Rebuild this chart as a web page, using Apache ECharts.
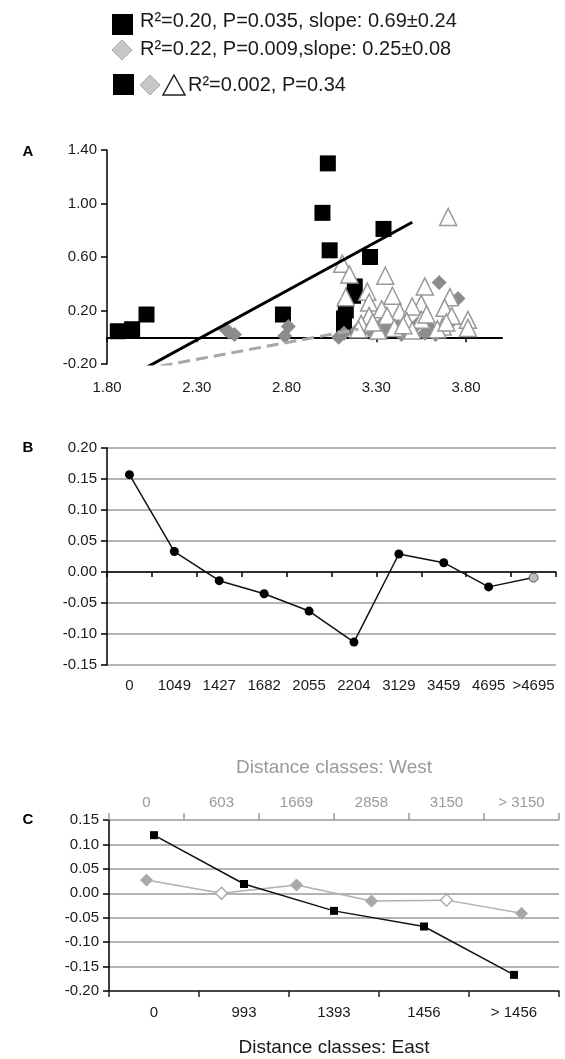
<!DOCTYPE html>
<html>
<head>
<meta charset="utf-8">
<script src="https://cdn.jsdelivr.net/npm/echarts@6/dist/echarts.min.js"></script>
<style>
html,body{margin:0;padding:0;background:#fff;}
#chart{width:565px;height:1059px;}
</style>
</head>
<body>
<div id="chart"></div>
<script>
// ---------- Panel A data ----------
const aSquares = [
  [1.86,0.045],[1.94,0.06],[2.02,0.17],[2.78,0.17],[3.03,1.30],[3.00,0.93],[3.04,0.65],
  [3.34,0.81],[3.265,0.60],[3.18,0.38],[3.17,0.31],[3.13,0.20],[3.12,0.14],[3.12,0.08]
];
const aDiamonds = [
  [2.46,0.06],[2.48,0.04],[2.51,0.02],[2.81,0.08],[2.79,0.01],[3.65,0.41],[3.755,0.29],
  [3.09,0.00],[3.12,0.03],[3.19,0.05],[3.24,0.08],[3.28,0.03],[3.33,0.10],[3.36,0.05],
  [3.41,0.09],[3.44,0.02],[3.48,0.06],[3.53,0.10],[3.57,0.03],[3.60,0.07],[3.63,0.02],[3.72,0.12]
];
const aTriangles = [
  [3.70,0.90],[3.11,0.55],[3.15,0.47],[3.35,0.46],[3.57,0.38],[3.25,0.34],[3.39,0.31],
  [3.13,0.30],[3.71,0.30],[3.55,0.25],[3.26,0.26],[3.33,0.21],[3.43,0.19],[3.50,0.23],
  [3.68,0.22],[3.72,0.16],[3.81,0.13],[3.26,0.16],[3.36,0.16],[3.47,0.12],[3.55,0.13],
  [3.215,0.10],[3.40,0.07],[3.67,0.08],[3.81,0.07],[3.20,0.06],[3.31,0.05],[3.50,0.05],
  [3.64,0.06],[3.69,0.11],[3.28,0.11],[3.45,0.09],[3.58,0.17]
];
const aFitBlack = [[2.0,-0.24],[3.5,0.86]];
const aFitGray = [[2.0,-0.24],[3.2,0.06]];
const aTicksX = [1.8,2.3,2.8,3.3,3.8];
const aTicksY = [-0.2,0.2,0.6,1.0,1.4];

// ---------- Panel B data ----------
const bCats = ['0','1049','1427','1682','2055','2204','3129','3459','4695','>4695'];
const bVals = [0.157,0.033,-0.014,-0.035,-0.063,-0.113,0.029,0.015,-0.024,-0.009];

// ---------- Panel C data ----------
const cEastCats = ['0','993','1393','1456','> 1456'];
const cEastVals = [0.119,0.019,-0.036,-0.068,-0.167];
const cWestCats = ['0','603','1669','2858','3150','> 3150'];
const cWestVals = [0.027,0.000,0.017,-0.016,-0.014,-0.041];
const cWestOpen = [false,true,false,false,true,false];

const FONT = '"Liberation Sans", Arial, sans-serif';
const TXT = '#1a1a1a';
const GRID = '#9a9a9a';
const fmt2 = v => (Math.abs(v) < 1e-9 ? 0 : v).toFixed(2);
const lbl = (extra) => Object.assign({fontSize:15, color:TXT, fontFamily:FONT}, extra || {});

const chart = echarts.init(document.getElementById('chart'), null, {renderer:'canvas'});

const option = {
  backgroundColor:'#fff',
  animation:false,
  grid:[
    {left:107, top:150, width:395, height:214},
    {left:107, top:448, width:449, height:217},
    {left:109, top:820, width:450, height:171}
  ],
  xAxis:[
    {gridIndex:0, type:'value', min:1.8, max:4.0, position:'bottom',
      axisLine:{show:false, onZero:false}, axisTick:{show:false}, splitLine:{show:false},
      axisLabel:lbl({customValues:aTicksX, formatter:fmt2, margin:16})},
    {gridIndex:0, type:'value', min:1.8, max:4.0, position:'top',
      axisLine:{show:true, onZero:true, lineStyle:{color:'#000', width:2}},
      axisTick:{show:true, inside:true, customValues:aTicksX, length:5, lineStyle:{color:'#000', width:1.5}},
      axisLabel:{show:false}, splitLine:{show:false}},
    {gridIndex:1, type:'category', data:bCats, position:'bottom',
      axisLine:{show:false, onZero:false}, axisTick:{show:false}, splitLine:{show:false},
      axisLabel:lbl({interval:0, margin:13})},
    {gridIndex:1, type:'category', data:bCats, position:'top',
      axisLine:{show:true, onZero:true, lineStyle:{color:'#000', width:1.5}},
      axisTick:{show:true, inside:true, interval:0, length:5, lineStyle:{color:'#000', width:1.5}},
      axisLabel:{show:false}, splitLine:{show:false}},
    {gridIndex:2, type:'category', data:cEastCats, position:'bottom',
      axisLine:{show:true, onZero:false, lineStyle:{color:'#222', width:1.5}},
      axisTick:{show:true, interval:0, length:6, lineStyle:{color:'#222', width:1.5}},
      axisLabel:lbl({interval:0, margin:14}), splitLine:{show:false},
      name:'Distance classes: East', nameLocation:'middle', nameGap:47,
      nameTextStyle:{fontSize:19, color:TXT, fontFamily:FONT}},
    {gridIndex:2, type:'category', data:cWestCats, position:'top',
      axisLine:{show:false, onZero:false},
      axisTick:{show:true, interval:0, length:7, lineStyle:{color:'#999', width:1.5}},
      axisLabel:lbl({interval:0, margin:10, color:'#9a9a9a'}), splitLine:{show:false},
      name:'Distance classes: West', nameLocation:'middle', nameGap:43,
      nameTextStyle:{fontSize:19, color:'#9a9a9a', fontFamily:FONT}}
  ],
  yAxis:[
    {gridIndex:0, type:'value', min:-0.2, max:1.4,
      axisLine:{show:true, onZero:false, lineStyle:{color:'#000', width:1.5}},
      axisTick:{show:true, customValues:aTicksY, length:6, lineStyle:{color:'#000', width:1.5}},
      axisLabel:lbl({customValues:aTicksY, formatter:fmt2, margin:10}),
      splitLine:{show:false}},
    {gridIndex:1, type:'value', min:-0.15, max:0.2, interval:0.05,
      axisLine:{show:true, onZero:false, lineStyle:{color:'#000', width:1.5}},
      axisTick:{show:true, length:6, lineStyle:{color:'#000', width:1.5}},
      axisLabel:lbl({formatter:fmt2, margin:10}),
      splitLine:{show:true, lineStyle:{color:GRID, width:1.5}}},
    {gridIndex:2, type:'value', min:-0.2, max:0.15, interval:0.05,
      axisLine:{show:true, onZero:false, lineStyle:{color:'#000', width:1.5}},
      axisTick:{show:true, length:6, lineStyle:{color:'#000', width:1.5}},
      axisLabel:lbl({formatter:fmt2, margin:10}),
      splitLine:{show:true, lineStyle:{color:GRID, width:1.5}}}
  ],
  series:[
    {type:'scatter', xAxisIndex:0, yAxisIndex:0, data:aSquares, symbol:'rect', symbolSize:16,
      itemStyle:{color:'#000', opacity:1}, z:2},
    {type:'scatter', xAxisIndex:0, yAxisIndex:0, data:aDiamonds, symbol:'diamond', symbolSize:15,
      itemStyle:{color:'#8c8c8c', opacity:1}, z:3},
    {type:'scatter', xAxisIndex:0, yAxisIndex:0, data:aTriangles, symbol:'triangle', symbolSize:17,
      itemStyle:{color:'#fff', borderColor:'#999', borderWidth:1.5, opacity:1}, z:4},
    {type:'line', xAxisIndex:0, yAxisIndex:0, data:aFitBlack, showSymbol:false, symbol:'none',
      lineStyle:{color:'#000', width:3}, z:5},
    {type:'line', xAxisIndex:0, yAxisIndex:0, data:aFitGray, showSymbol:false, symbol:'none',
      lineStyle:{color:'#a8a8a8', width:3, type:[12,6]}, z:5},
    {type:'line', xAxisIndex:2, yAxisIndex:1,
      data:bVals.map((v,i) => i === bVals.length-1
        ? {value:v, itemStyle:{color:'#bdbdbd', borderColor:'#555', borderWidth:1}}
        : v),
      symbol:'circle', symbolSize:9, itemStyle:{color:'#000'},
      lineStyle:{color:'#111', width:1.5}, z:5},
    {type:'line', xAxisIndex:5, yAxisIndex:2,
      data:cWestVals.map((v,i) => ({value:v, itemStyle: cWestOpen[i]
        ? {color:'#fff', borderColor:'#a0a0a0', borderWidth:1.2}
        : {color:'#a8a8a8', borderColor:'#a8a8a8', borderWidth:1}})),
      symbol:'diamond', symbolSize:12, lineStyle:{color:'#b0b0b0', width:1.5}, z:4},
    {type:'line', xAxisIndex:4, yAxisIndex:2, data:cEastVals,
      symbol:'rect', symbolSize:8, itemStyle:{color:'#000'},
      lineStyle:{color:'#111', width:1.5}, z:5}
  ],
  graphic:[
    {type:'rect', shape:{x:112, y:14, width:21, height:21}, style:{fill:'#000'}},
    {type:'text', x:140, y:21, style:{text:'R²=0.20, P=0.035, slope: 0.69±0.24', fontSize:20, fontFamily:FONT, fill:TXT, verticalAlign:'middle', textVerticalAlign:'middle'}},
    {type:'polygon', shape:{points:[[122,40],[132,50],[122,60],[112,50]]}, style:{fill:'#c8c8c8', stroke:'#a8a8a8', lineWidth:1}},
    {type:'text', x:140, y:49, style:{text:'R²=0.22, P=0.009,slope: 0.25±0.08', fontSize:20, fontFamily:FONT, fill:TXT, verticalAlign:'middle', textVerticalAlign:'middle'}},
    {type:'rect', shape:{x:113, y:74, width:21, height:21}, style:{fill:'#000'}},
    {type:'polygon', shape:{points:[[150,75],[160,85],[150,95],[140,85]]}, style:{fill:'#c8c8c8', stroke:'#a8a8a8', lineWidth:1}},
    {type:'polygon', shape:{points:[[174,75],[185,95],[163,95]]}, style:{fill:'#fff', stroke:'#222', lineWidth:1.5}},
    {type:'text', x:188, y:85, style:{text:'R²=0.002, P=0.34', fontSize:20, fontFamily:FONT, fill:TXT, verticalAlign:'middle', textVerticalAlign:'middle'}},
    {type:'text', x:28, y:152, style:{text:'A', fontSize:15, fontWeight:'bold', fontFamily:FONT, fill:'#000', align:'center', textAlign:'center', verticalAlign:'middle', textVerticalAlign:'middle'}},
    {type:'text', x:28, y:448, style:{text:'B', fontSize:15, fontWeight:'bold', fontFamily:FONT, fill:'#000', align:'center', textAlign:'center', verticalAlign:'middle', textVerticalAlign:'middle'}},
    {type:'text', x:28, y:820, style:{text:'C', fontSize:15, fontWeight:'bold', fontFamily:FONT, fill:'#000', align:'center', textAlign:'center', verticalAlign:'middle', textVerticalAlign:'middle'}}
  ]
};
chart.setOption(option);
</script>
</body>
</html>
